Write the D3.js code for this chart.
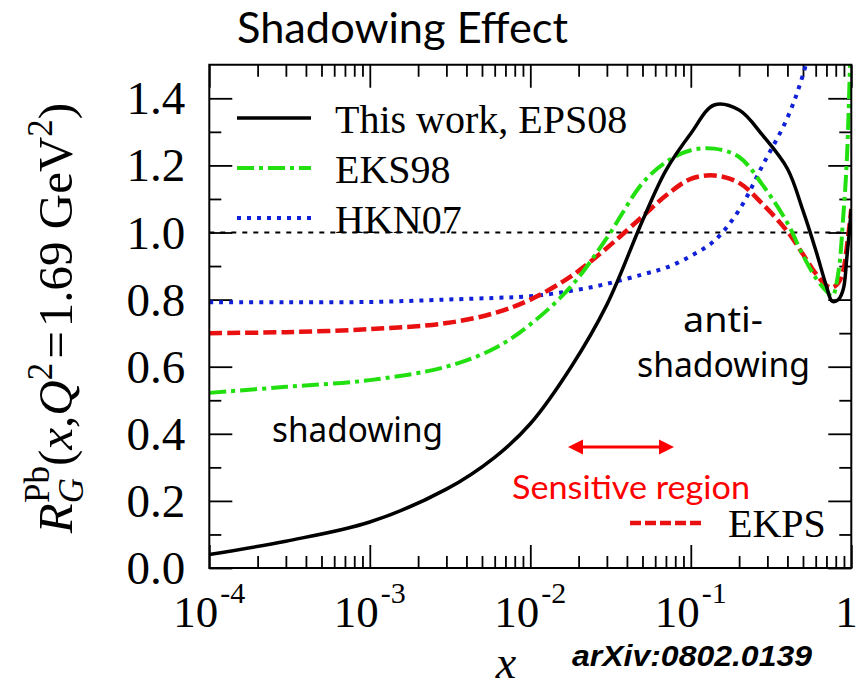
<!DOCTYPE html>
<html>
<head>
<meta charset="utf-8">
<script src="https://cdn.jsdelivr.net/npm/d3@7"></script>
<style>
  html, body { margin: 0; padding: 0; background: #fff; }
  svg { display: block; }
</style>
</head>
<body>
<svg id="chart" width="858" height="688"></svg>
<script>
// Nuclear gluon modification R_G^Pb(x, Q^2 = 1.69 GeV^2) for several parametrisations
const xValues = [1e-4, 3e-4, 1e-3, 3e-3, 6e-3, 0.01, 0.018, 0.03, 0.05, 0.07, 0.1, 0.14, 0.2, 0.28, 0.4, 0.5, 0.6, 0.7, 0.76, 0.83, 0.89, 0.94, 1.0];
const eps08 = [0.04, 0.08, 0.137, 0.235, 0.33, 0.43, 0.60, 0.785, 1.035, 1.185, 1.295, 1.38, 1.365, 1.29, 1.19, 1.065, 0.948, 0.84, 0.795, 0.80, 0.83, 0.93, 1.07];
const eks98 = [0.522, 0.54, 0.56, 0.60, 0.655, 0.726, 0.84, 0.984, 1.147, 1.21, 1.245, 1.25, 1.225, 1.142, 1.028, 0.932, 0.865, 0.825, 0.81, 0.88, 1.045, 1.225, 1.65];
const hkn07 = [0.792, 0.792, 0.793, 0.80, 0.805, 0.81, 0.826, 0.847, 0.875, 0.895, 0.93, 0.975, 1.067, 1.2, 1.342, 1.47, 1.62, null, null, null, null, null, null];
const ekps  = [0.70, 0.703, 0.712, 0.73, 0.76, 0.80, 0.87, 0.954, 1.048, 1.11, 1.16, 1.17, 1.148, 1.085, 1.003, 0.935, 0.878, 0.842, 0.836, 0.85, 0.885, 0.96, 1.07];

const yMajorTicks = [0, 0.2, 0.4, 0.6, 0.8, 1.0, 1.2, 1.4];
const yMinorTicks = [0.1, 0.3, 0.5, 0.7, 0.9, 1.1, 1.3];
const yTickLabels = ["0.0", "0.2", "0.4", "0.6", "0.8", "1.0", "1.2", "1.4"];
const xMajorTicks = [1e-4, 1e-3, 1e-2, 1e-1, 1];
const xTickBases = ["10", "10", "10", "10", "1"];
const xTickExps = ["-4", "-3", "-2", "-1", ""];
const seriesNames = ["This work, EPS08", "EKS98", "HKN07"];

const svg = d3.select("#chart");
const plotLeft = 209.3, plotRight = 851.3, plotTop = 64.75, plotBottom = 568;

const x = d3.scaleLog().domain([1e-4, 1]).range([plotLeft, plotRight]);
const y = d3.scaleLinear().domain([0, 1.5]).range([plotBottom, plotTop]);

const serif = "'Liberation Serif', 'Times New Roman', serif";

// minor ticks 2..9 within each decade
const xMinorTicks = [];
for (let d = -4; d < 0; d++) for (let k = 2; k <= 9; k++) xMinorTicks.push(k * Math.pow(10, d));

// clip region for the curves
svg.append("defs").append("clipPath").attr("id", "plotClip")
  .append("rect").attr("x", plotLeft).attr("y", plotTop)
  .attr("width", plotRight - plotLeft).attr("height", plotBottom - plotTop);

// ---- ticks (all pointing inward, on all four sides)
function styleAxis(g) {
  g.select(".domain").remove();
  g.selectAll(".tick line").attr("stroke", "#000").attr("stroke-width", 1.8);
}
svg.append("g").attr("transform", `translate(0,${plotBottom})`)
  .call(d3.axisBottom(x).tickValues(xMajorTicks).tickSize(-23).tickFormat(""))
  .call(styleAxis);
svg.append("g").attr("transform", `translate(0,${plotBottom})`)
  .call(d3.axisBottom(x).tickValues(xMinorTicks).tickSize(-12).tickFormat(""))
  .call(styleAxis);
svg.append("g").attr("transform", `translate(0,${plotTop})`)
  .call(d3.axisTop(x).tickValues(xMajorTicks).tickSize(-23).tickFormat(""))
  .call(styleAxis);
svg.append("g").attr("transform", `translate(0,${plotTop})`)
  .call(d3.axisTop(x).tickValues(xMinorTicks).tickSize(-12).tickFormat(""))
  .call(styleAxis);

const yLeft = svg.append("g").attr("transform", `translate(${plotLeft},0)`)
  .call(d3.axisLeft(y).tickValues(yMajorTicks).tickSize(-23).tickPadding(24)
        .tickFormat((d, i) => yTickLabels[i]))
  .call(styleAxis);
yLeft.selectAll(".tick text")
  .attr("font-family", serif).attr("font-size", 47).attr("fill", "#000").attr("dy", "0.33em");
svg.append("g").attr("transform", `translate(${plotLeft},0)`)
  .call(d3.axisLeft(y).tickValues(yMinorTicks).tickSize(-12).tickFormat(""))
  .call(styleAxis);
svg.append("g").attr("transform", `translate(${plotRight},0)`)
  .call(d3.axisRight(y).tickValues(yMajorTicks).tickSize(-23).tickFormat(""))
  .call(styleAxis);
svg.append("g").attr("transform", `translate(${plotRight},0)`)
  .call(d3.axisRight(y).tickValues(yMinorTicks).tickSize(-12).tickFormat(""))
  .call(styleAxis);

// x tick labels 10^n (the last one is nudged so it stays on the page)
const xl = svg.append("g").selectAll("text").data(xMajorTicks).join("text")
  .attr("x", d => Math.min(x(d), 846.5)).attr("y", 627)
  .attr("text-anchor", "middle")
  .attr("font-family", serif).attr("font-size", 45).attr("fill", "#000");
xl.append("tspan").text((d, i) => xTickBases[i]);
xl.append("tspan").attr("font-size", 30).attr("dy", -24).attr("dx", 2).text((d, i) => xTickExps[i]);

// reference line at R = 1
svg.append("line")
  .attr("x1", plotLeft).attr("x2", plotRight).attr("y1", y(1)).attr("y2", y(1))
  .attr("stroke", "#000").attr("stroke-width", 1.8).attr("stroke-dasharray", "5,6");

// ---- curves
const line = d3.line()
  .defined(d => d.v !== null)
  .x(d => x(d.x)).y(d => y(d.v))
  .curve(d3.curveCatmullRom.alpha(0.5));
const pts = vals => xValues.map((xv, i) => ({ x: xv, v: vals[i] }));

const curves = svg.append("g").attr("clip-path", "url(#plotClip)");
curves.append("path").attr("d", line(pts(hkn07)))
  .attr("fill", "none").attr("stroke", "#1020d8").attr("stroke-width", 4).attr("stroke-dasharray", "4,6");
curves.append("path").attr("d", line(pts(ekps)))
  .attr("fill", "none").attr("stroke", "#e81010").attr("stroke-width", 4.5).attr("stroke-dasharray", "13,5");
curves.append("path").attr("d", line(pts(eks98)))
  .attr("fill", "none").attr("stroke", "#22e010").attr("stroke-width", 4).attr("stroke-dasharray", "17,5,4,5");
curves.append("path").attr("d", line(pts(eps08)))
  .attr("fill", "none").attr("stroke", "#000").attr("stroke-width", 3.5);

// frame
svg.append("rect").attr("x", plotLeft).attr("y", plotTop)
  .attr("width", plotRight - plotLeft).attr("height", plotBottom - plotTop)
  .attr("fill", "none").attr("stroke", "#000").attr("stroke-width", 2);

// ---- legend
const legendStyles = [
  { stroke: "#000", width: 3.5, dash: null },
  { stroke: "#22e010", width: 4, dash: "17,5,4,5" },
  { stroke: "#1020d8", width: 4, dash: "4,6" }
];
seriesNames.forEach((name, i) => {
  const ly = 118 + i * 50;
  const s = legendStyles[i];
  svg.append("line").attr("x1", 237).attr("x2", 311).attr("y1", ly).attr("y2", ly)
    .attr("stroke", s.stroke).attr("stroke-width", s.width)
    .attr("stroke-dasharray", s.dash);
  svg.append("text").attr("x", 335).attr("y", ly + 15)
    .attr("font-family", serif).attr("font-size", 40).attr("fill", "#000").text(name);
});

// EKPS legend entry
svg.append("line").attr("x1", 630).attr("x2", 703).attr("y1", 523).attr("y2", 523)
  .attr("stroke", "#e81010").attr("stroke-width", 4.5).attr("stroke-dasharray", "11,4");
svg.append("text").attr("x", 728).attr("y", 537)
  .attr("font-family", serif).attr("font-size", 40).attr("fill", "#000").text("EKPS");

// ---- annotations
const hand = "'Noto Sans', 'DejaVu Sans', sans-serif";
svg.append("text").attr("x", 272).attr("y", 442)
  .attr("font-family", hand).attr("font-size", 34).attr("fill", "#000")
  .attr("textLength", 171).attr("lengthAdjust", "spacingAndGlyphs").text("shadowing");
svg.append("text").attr("x", 683).attr("y", 332)
  .attr("font-family", hand).attr("font-size", 34).attr("fill", "#000")
  .attr("textLength", 80).attr("lengthAdjust", "spacingAndGlyphs").text("anti-");
svg.append("text").attr("x", 637).attr("y", 377)
  .attr("font-family", hand).attr("font-size", 34).attr("fill", "#000")
  .attr("textLength", 173).attr("lengthAdjust", "spacingAndGlyphs").text("shadowing");

// sensitive-region double arrow
const ax0 = 568, ax1 = 674, ay = 447, ah = 15, aw = 7.5;
svg.append("line").attr("x1", ax0 + ah - 2).attr("x2", ax1 - ah + 2).attr("y1", ay).attr("y2", ay)
  .attr("stroke", "#f00").attr("stroke-width", 3);
svg.append("path").attr("fill", "#f00")
  .attr("d", `M${ax0},${ay} L${ax0 + ah},${ay - aw} L${ax0 + ah},${ay + aw} Z M${ax1},${ay} L${ax1 - ah},${ay - aw} L${ax1 - ah},${ay + aw} Z`);
svg.append("text").attr("x", 512).attr("y", 499)
  .attr("font-family", "Lato, 'Open Sans', sans-serif").attr("font-size", 32).attr("fill", "#f00")
  .attr("textLength", 238).attr("lengthAdjust", "spacingAndGlyphs").text("Sensitive region");

// title
svg.append("text").attr("x", 237).attr("y", 43)
  .attr("font-family", "Lato, 'Open Sans', sans-serif").attr("font-size", 42).attr("fill", "#000")
  .attr("textLength", 331).attr("lengthAdjust", "spacingAndGlyphs").text("Shadowing Effect");

// reference tag
svg.append("text").attr("x", 572).attr("y", 666)
  .attr("font-family", "'Liberation Sans', Arial, sans-serif").attr("font-size", 30)
  .attr("font-weight", "bold").attr("font-style", "italic").attr("fill", "#000")
  .attr("textLength", 240).attr("lengthAdjust", "spacingAndGlyphs").text("arXiv:0802.0139");

// x-axis title
svg.append("text").attr("x", 506).attr("y", 678).attr("text-anchor", "middle")
  .attr("font-family", serif).attr("font-style", "italic").attr("font-size", 46).attr("fill", "#000").text("x");

// y-axis title: R_G^Pb(x,Q^2=1.69 GeV^2)
const yt = svg.append("text")
  .attr("transform", "translate(72,318) rotate(-90)")
  .attr("text-anchor", "middle")
  .attr("font-family", serif).attr("font-size", 49).attr("fill", "#000");
yt.append("tspan").attr("font-style", "italic").text("R");
yt.append("tspan").attr("font-style", "italic").attr("font-size", 35).attr("dy", 11).text("G");
yt.append("tspan").attr("font-size", 35).attr("dx", -25).attr("dy", -34).text("Pb");
yt.append("tspan").attr("dy", 23).text("(");
yt.append("tspan").attr("font-style", "italic").text("x");
yt.append("tspan").text(",");
yt.append("tspan").attr("font-style", "italic").text("Q");
yt.append("tspan").attr("font-size", 35).attr("dy", -20).text("2");
yt.append("tspan").attr("dy", 20).attr("dx", 4).text("=");
yt.append("tspan").attr("dx", 4).text("1.69 GeV");
yt.append("tspan").attr("font-size", 35).attr("dy", -20).text("2");
yt.append("tspan").attr("dy", 20).text(")");
</script>
</body>
</html>
